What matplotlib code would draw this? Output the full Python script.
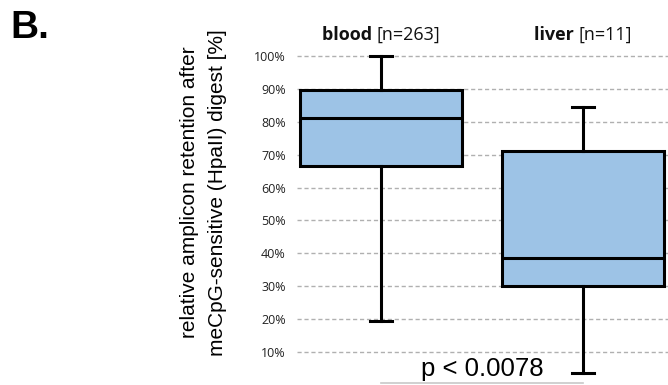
import matplotlib.pyplot as plt

groups = ["blood", "liver"]
counts = ["[n=263]", "[n=11]"]
whis_lo = [19.5, 3.5]
q1 = [66.5, 30.0]
medians = [81.0, 38.5]
q3 = [89.8, 71.0]
whis_hi = [100.0, 84.5]
yticks = [10, 20, 30, 40, 50, 60, 70, 80, 90, 100]
p_text = "p < 0.0078"

fig = plt.figure(figsize=(6.68, 3.85), dpi=100)
ax = fig.add_axes([297 / 668, 0, 371 / 668, 1])

stats = []
for i, g in enumerate(groups):
    stats.append({"label": g, "whislo": whis_lo[i], "q1": q1[i], "med": medians[i],
                  "q3": q3[i], "whishi": whis_hi[i], "fliers": []})

ax.bxp(stats, positions=[1, 2], widths=0.8, patch_artist=True, showfliers=False,
       boxprops=dict(facecolor="#9dc3e6", edgecolor="black", linewidth=2.2),
       medianprops=dict(color="black", linewidth=2.2),
       whiskerprops=dict(color="black", linewidth=2.2),
       capprops=dict(color="black", linewidth=2.2), capwidths=0.11)

ax.set_xlim(0.584, 2.42)
ax.set_ylim(0, 117)
ax.set_axisbelow(True)
ax.yaxis.grid(True, color="#b0b0b0", linestyle=(0, (3, 2)), linewidth=1)
ax.set_yticks(yticks)
ax.set_yticklabels([f"{t}%" for t in yticks], fontfamily="Open Sans", fontsize=9, color="#222222")
ax.tick_params(axis="y", length=0, pad=8)
ax.set_xticks([])
for s in ax.spines.values():
    s.set_visible(False)

# group headers: bold name + normal count, centred over each box
fig.canvas.draw()
r = fig.canvas.get_renderer()
for i, g in enumerate(groups):
    t1 = ax.text(i + 1, 106.5, g + " ", fontfamily="Open Sans", fontweight="bold", fontsize=13,
                 ha="left", va="center", color="#111111")
    t2 = ax.text(i + 1, 106.5, counts[i], fontfamily="Open Sans", fontsize=13,
                 ha="left", va="center", color="#111111")
    w1 = t1.get_window_extent(r).width
    w2 = t2.get_window_extent(r).width
    x0 = ax.transData.transform((i + 1, 0))[0] - (w1 + w2) / 2
    inv = ax.transData.inverted()
    t1.set_x(inv.transform((x0, 0))[0])
    t2.set_x(inv.transform((x0 + w1, 0))[0])

ax.text(1.5, 5.0, p_text, fontfamily="Liberation Sans", fontsize=18.5, ha="center", va="center")
ax.plot([1.0, 2.0], [0.5, 0.5], color="#c8c8c8", linewidth=1.2, clip_on=False)

fig.text(0.304, 0.5, "relative amplicon retention after\nmeCpG-sensitive (HpaII) digest [%]",
         rotation=90, ha="center", va="center", fontfamily="Liberation Sans", fontsize=15,
         linespacing=1.6)
fig.text(10 / 668, 1 - 28 / 385, "B.", fontfamily="Liberation Sans", fontweight="bold",
         fontsize=28, ha="left", va="center")

fig.savefig("out.png", dpi=100)
